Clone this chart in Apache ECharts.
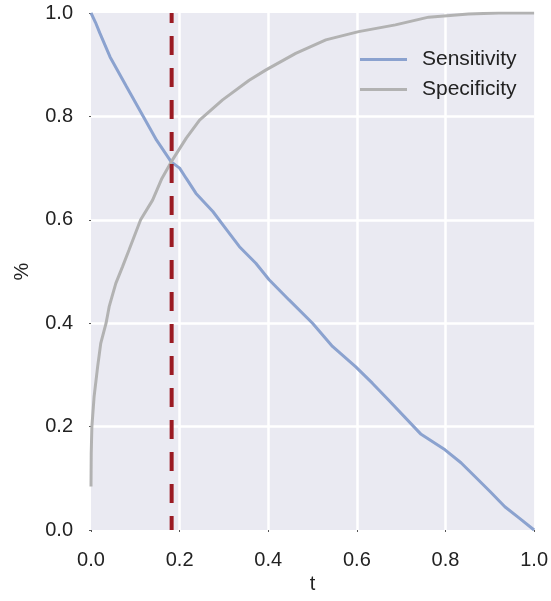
<!DOCTYPE html>
<html>
<head>
<meta charset="utf-8">
<script src="https://cdn.jsdelivr.net/npm/echarts@6/dist/echarts.min.js"></script>
<style>html,body{margin:0;padding:0;background:#fff}#c{width:551px;height:601px}</style>
</head>
<body>
<div id="c"></div>
<script>
const sensT = [0, 0.010, 0.020, 0.043, 0.080, 0.118, 0.148, 0.181, 0.200, 0.215, 0.237, 0.275, 0.305, 0.335, 0.372, 0.402, 0.447, 0.500, 0.545, 0.597, 0.635, 0.672, 0.745, 0.799, 0.835, 0.867, 0.900, 0.934, 0.968, 1.0];
const sensV = [1.0, 0.982, 0.961, 0.915, 0.858, 0.800, 0.754, 0.712, 0.700, 0.680, 0.651, 0.616, 0.582, 0.548, 0.516, 0.484, 0.445, 0.400, 0.355, 0.316, 0.284, 0.251, 0.185, 0.155, 0.130, 0.103, 0.075, 0.045, 0.022, 0.0];
const specT = [0, 0.0005, 0.002, 0.007, 0.015, 0.022, 0.034, 0.041, 0.056, 0.071, 0.086, 0.112, 0.139, 0.160, 0.181, 0.215, 0.245, 0.297, 0.357, 0.395, 0.462, 0.530, 0.604, 0.687, 0.762, 0.852, 0.92, 1.0];
const specV = [0.084, 0.148, 0.200, 0.258, 0.316, 0.361, 0.400, 0.432, 0.477, 0.509, 0.542, 0.600, 0.638, 0.680, 0.712, 0.758, 0.793, 0.832, 0.870, 0.890, 0.922, 0.948, 0.964, 0.977, 0.992, 0.998, 1.0, 1.0];
const threshold = 0.182;
const seriesNames = ['Sensitivity', 'Specificity'];
const xName = 't';
const yName = '%';

const zip = (a, b) => a.map((v, i) => [v, b[i]]);
const font = 'Liberation Sans, Arial, sans-serif';
const chart = echarts.init(document.getElementById('c'), null, {renderer: 'canvas'});
const axisCommon = {
  type: 'value', min: 0, max: 1, interval: 0.2,
  axisLine: {show: false},
  axisTick: {show: true, length: 2, lineStyle: {color: '#555', width: 1}},
  splitLine: {show: true, showMinLine: false, showMaxLine: false, lineStyle: {color: '#ffffff', width: 2.5}},
  axisLabel: {color: '#222', fontSize: 20, fontFamily: font, formatter: v => v.toFixed(1)},
  nameTextStyle: {color: '#222', fontSize: 20, fontFamily: font},
  nameLocation: 'middle'
};
chart.setOption({
  animation: false,
  backgroundColor: '#ffffff',
  grid: {left: 91, right: 15, top: 13, bottom: 71, show: true, backgroundColor: '#eaeaf2', borderWidth: 0},
  xAxis: Object.assign({}, axisCommon, {name: xName, nameGap: 42, axisLabel: Object.assign({}, axisCommon.axisLabel, {margin: 20})}),
  yAxis: Object.assign({}, axisCommon, {name: yName, nameGap: 59, axisLabel: Object.assign({}, axisCommon.axisLabel, {margin: 18})}),
  legend: {
    data: seriesNames, orient: 'vertical', left: 355, top: 44,
    itemWidth: 47, itemHeight: 3, itemGap: 9, icon: 'rect',
    textStyle: {color: '#222', fontSize: 21, fontFamily: font, padding: [0, 0, 0, 10], lineHeight: 21}
  },
  series: [
    {name: seriesNames[0], type: 'line', data: zip(sensT, sensV), showSymbol: false, symbol: 'none',
     lineStyle: {color: '#8ba2cf', width: 3}, itemStyle: {color: '#8ba2cf'}},
    {name: seriesNames[1], type: 'line', data: zip(specT, specV), showSymbol: false, symbol: 'none',
     lineStyle: {color: '#b2b2b2', width: 3}, itemStyle: {color: '#b2b2b2'}},
    {name: 'threshold', type: 'line', data: [[threshold, 0], [threshold, 1]], showSymbol: false, symbol: 'none',
     lineStyle: {color: '#9b1c24', width: 4, type: [19, 13], dashOffset: 5}, z: 5}
  ]
});
</script>
</body>
</html>
